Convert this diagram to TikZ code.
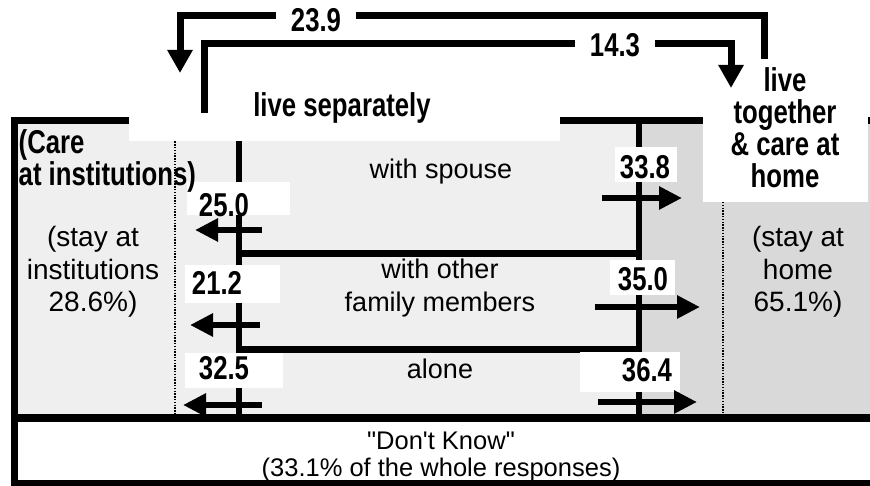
\documentclass[tikz,border=0pt]{standalone}
\usepackage{fontspec}
\setmainfont{Liberation Sans}
\newfontfamily\boldnarrow{Liberation Sans}[FakeStretch=0.78]
\newfontfamily\qfont{Liberation Sans}[Ligatures=TeXOff]
\usetikzlibrary{arrows.meta}
\definecolor{lightfill}{HTML}{EFEFEF}
\definecolor{darkfill}{HTML}{D9D9D9}
\begin{document}
\begin{tikzpicture}[x=1pt,y=-1pt,
  frameline/.style={line width=7pt},
  innerline/.style={line width=6.5pt},
  flow/.style={line width=7pt, line join=miter, -{Triangle[width=24pt,length=23pt]}},
  smallarrow/.style={line width=6.5pt, -{Triangle[width=22pt,length=23pt]}},
  boldlab/.style={font=\boldnarrow\bfseries\fontsize{33}{32}\selectfont, inner sep=0pt},
  plain/.style={font=\fontsize{27}{32.5}\selectfont, inner sep=0pt, align=center},
  side/.style={font=\fontsize{28}{32.5}\selectfont, inner sep=0pt, align=center},
  mask/.style={fill=white},
  dotline/.style={line width=1.6pt, dash pattern=on 1.4pt off 1.4pt},
]
\useasboundingbox (0,0) rectangle (870,486);
\begin{scope}
\clip (0,0) rectangle (870,486);
% background fills
\fill[lightfill] (17.5,124.5) rectangle (639,414);
\fill[darkfill] (639,124.5) rectangle (875,414);
\fill[white] (17.5,421.5) rectangle (875,480);
% top border, then the white label areas over it
\draw[frameline] (10.5,121) -- (880,121);
\fill[mask] (129,85) rectangle (560,141.5);
\fill[mask] (703,60) rectangle (868,202);
% frame
\draw[frameline] (14,117.5) -- (14,490);
\draw[line width=8pt] (10.5,417.5) -- (880,417.5);
\draw[frameline] (10.5,483.5) -- (880,483.5);
% dotted dividers
\draw[dotline] (175,141.5) -- (175,414);
\draw[dotline] (723,202) -- (723,414);
% inner lines
\draw[innerline] (239,141.5) -- (239,414);
\draw[innerline] (639,121) -- (639,414);
\draw[innerline] (235.75,253.5) -- (642.25,253.5);
\draw[innerline] (235.75,349.5) -- (642.25,349.5);
% masks behind numbers
\fill[mask] (187,182) rectangle (290,215);
\fill[mask] (185,265) rectangle (280,303);
\fill[mask] (185,353) rectangle (283,388);
\fill[mask] (615,147) rectangle (677,182);
\fill[mask] (610,260) rectangle (675,295);
\fill[mask] (580,352) rectangle (680,392);
% inner arrows
\coordinate (a1s) at (262,230); \coordinate (a1e) at (195,230);
\coordinate (a2s) at (260,325); \coordinate (a2e) at (190,325);
\coordinate (a3s) at (262,405); \coordinate (a3e) at (183,405);
\coordinate (b1s) at (602,198); \coordinate (b1e) at (682,198);
\coordinate (b2s) at (595,307); \coordinate (b2e) at (700,307);
\coordinate (b3s) at (598,402); \coordinate (b3e) at (697,402);
\draw[smallarrow] (a1s) -- (a1e);
\draw[smallarrow] (a2s) -- (a2e);
\draw[smallarrow] (a3s) -- (a3e);
\draw[smallarrow] (b1s) -- (b1e);
\draw[smallarrow] (b2s) -- (b2e);
\draw[smallarrow] (b3s) -- (b3e);
% top flows
\coordinate (f1s) at (764,59); \coordinate (f1e) at (180,73);
\coordinate (f2s) at (204,113); \coordinate (f2e) at (731,88);
\draw[flow] (f1s) -- ++(0,-43) -| (f1e);
\draw[flow] (f2s) -- ++(0,-69.5) -| (f2e);
\node[boldlab, fill=white, inner xsep=14.5pt, inner ysep=3pt] (l239) at (316,20) {23.9};
\node[boldlab, fill=white, inner xsep=15pt, inner ysep=3pt] (l143) at (615,45) {14.3};
% numbers
\node[boldlab] (n250) at (224,205) {25.0};
\node[boldlab] (n212) at (217,283) {21.2};
\node[boldlab] (n325) at (224,368) {32.5};
\node[boldlab] (n338) at (645,167) {33.8};
\node[boldlab] (n350) at (643,279) {35.0};
\node[boldlab] (n364) at (647,370) {36.4};
% texts
\node[boldlab, anchor=base] (sep) at (342,117) {live separately};
\node[boldlab, align=center] (tog) at (785,128) {live\\together\\\& care at\\home};
\node[boldlab, align=left, anchor=west] (care) at (18.5,161) {(Care\\at institutions)};
\node[side] (inst) at (93,272) {(stay at\\institutions\\28.6\%)};
\node[side] (home) at (798,272) {(stay at\\home\\65.1\%)};
\node[plain, anchor=base] (spouse) at (441,179) {with spouse};
\node[plain] (other) at (440,288) {with other\\family members};
\node[plain, anchor=base] (alone) at (440,378) {alone};
\node[plain, font=\qfont\fontsize{25.5}{27}\selectfont] (dk) at (441,457) {"Don't Know"\\(33.1\% of the whole responses)};
\end{scope}
\end{tikzpicture}
\end{document}
